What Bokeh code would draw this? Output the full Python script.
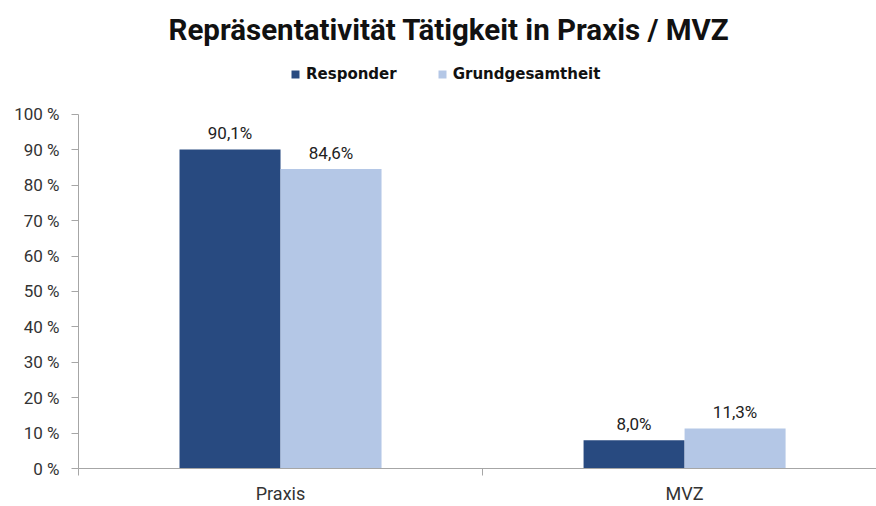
from bokeh.plotting import figure
from bokeh.models import (ColumnDataSource, Range1d, FixedTicker, Legend, LegendItem)
from bokeh.core.properties import value
from bokeh.embed import file_html
from bokeh.resources import INLINE

title_text = "Repräsentativität Tätigkeit in Praxis / MVZ"
categories = ["Praxis", "MVZ"]
series_names = ["Responder", "Grundgesamtheit"]
responder = [90.1, 8.0]
grundgesamtheit = [84.6, 11.3]
y_ticks = [0, 10, 20, 30, 40, 50, 60, 70, 80, 90, 100]
y_tick_labels = ["0 %", "10 %", "20 %", "30 %", "40 %", "50 %", "60 %", "70 %", "80 %", "90 %", "100 %"]

DARK = "#284a80"
LIGHT = "#b4c7e6"
FONT = "Roboto"

centers = [i + 0.5 for i in range(len(categories))]
bar_w = 0.25

def fmt(v):
    return f"{v:.1f}".replace(".", ",") + "%"

src_r = ColumnDataSource(dict(x=[c - bar_w / 2 for c in centers], top=responder,
                              lab=[fmt(v) for v in responder]))
src_g = ColumnDataSource(dict(x=[c + bar_w / 2 for c in centers], top=grundgesamtheit,
                              lab=[fmt(v) for v in grundgesamtheit]))

p = figure(width=876, height=506, output_backend="svg", toolbar_location=None,
           x_range=Range1d(0, 1.975), y_range=Range1d(0, 116.06),
           min_border_left=78, min_border_right=0, min_border_bottom=0, min_border_top=56)

p.title.text = title_text
p.title.align = "left"
p.title.offset = 90
p.title.standoff = 21
p.title.text_font = FONT
p.title.text_font_size = "29.5px"
p.title.text_font_style = "bold"
p.title.text_color = "#111111"

r1 = p.vbar(x="x", top="top", width=bar_w, source=src_r, fill_color=DARK, line_color=None)
r2 = p.vbar(x="x", top="top", width=bar_w, source=src_g, fill_color=LIGHT, line_color=None)

for src in (src_r, src_g):
    p.text(x="x", y="top", text="lab", source=src, text_align="center", text_baseline="bottom",
           y_offset=-6, text_font=value(FONT), text_font_size="17px", text_color="#222222")

legend = Legend(items=[LegendItem(label=series_names[0], renderers=[r1]),
                       LegendItem(label=series_names[1], renderers=[r2])],
                orientation="horizontal", location=(212, 385),
                label_text_font="DejaVu Sans", label_text_font_size="15px", label_text_color="#111111",
                label_text_font_style="bold",
                glyph_width=10, glyph_height=10, spacing=40, label_standoff=6,
                border_line_color=None, background_fill_alpha=0, padding=4, margin=0)
p.add_layout(legend)

p.grid.visible = False
p.outline_line_color = None

# y axis
p.yaxis.ticker = FixedTicker(ticks=y_ticks)
p.yaxis.bounds = (0, 100)
p.yaxis.major_label_overrides = {t: l for t, l in zip(y_ticks, y_tick_labels)}
p.yaxis.axis_line_color = "#a6a6a6"
p.yaxis.major_tick_line_color = "#a6a6a6"
p.yaxis.major_tick_out = 7
p.yaxis.major_tick_in = 0
p.yaxis.minor_tick_line_color = None
p.yaxis.major_label_text_font = FONT
p.yaxis.major_label_text_font_size = "17px"
p.yaxis.major_label_text_color = "#333333"
p.yaxis.major_label_standoff = 12

# x axis
p.xaxis.ticker = FixedTicker(ticks=centers, minor_ticks=[float(i) for i in range(len(categories) + 1)])
p.xaxis.major_label_overrides = {c: n for c, n in zip(centers, categories)}
p.xaxis.axis_line_color = "#a6a6a6"
p.xaxis.major_tick_line_color = None
p.xaxis.major_tick_out = 7
p.xaxis.minor_tick_line_color = "#a6a6a6"
p.xaxis.minor_tick_out = 7
p.xaxis.minor_tick_in = 0
p.xaxis.major_label_text_font = FONT
p.xaxis.major_label_text_font_size = "18px"
p.xaxis.major_label_text_color = "#333333"
p.xaxis.major_label_standoff = 7

open("out.html", "w").write(file_html(p, INLINE))
